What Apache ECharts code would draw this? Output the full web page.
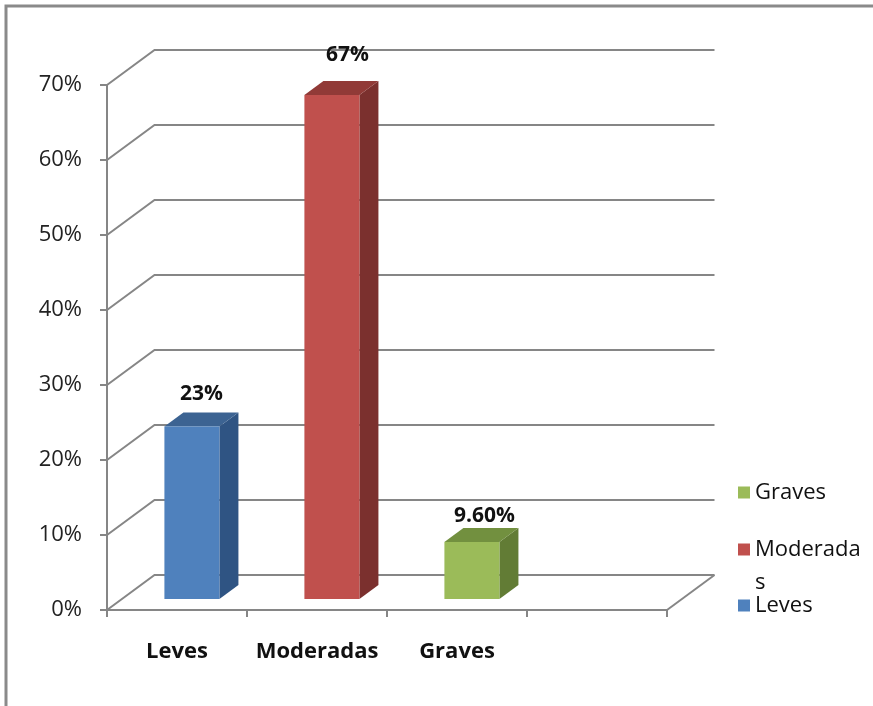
<!DOCTYPE html>
<html>
<head>
<meta charset="utf-8">
<script src="https://cdn.jsdelivr.net/npm/echarts@6/dist/echarts.min.js"></script>
<style>
html,body{margin:0;padding:0;background:#fff;}
#c{width:873px;height:706px;}
</style>
</head>
<body>
<div id="c"></div>
<script>
// ---- data ----
var categories = ['Leves', 'Moderadas', 'Graves', ''];
var seriesNames = ['Leves', 'Moderadas', 'Graves'];
var seriesValues = [23, 67.2, 7.6];
var dataLabels = ['23%', '67%', '9.60%'];
var yTicks = [0, 10, 20, 30, 40, 50, 60, 70];

// ---- style ----
var frontColors = ['#4F81BD', '#C0504D', '#9BBB59'];
var sideColors = ['#2F5483', '#7B302E', '#627C35'];
var topColors = ['#3C6392', '#913A37', '#72903F'];
var labelShiftY = [0, -7, 7];
var labelShiftX = [0, 6, 3];
var DX = 47.5, DY = -35;          // depth of the floor
var FRONT_T = 0.314;              // bar front position in depth
var BAR_T = 0.4;                  // bar depth
var BAR_W = 0.393;                // bar width as fraction of band
var GRID_COLOR = '#868686';
var FONT = '"Open Sans", sans-serif';

var chart = echarts.init(document.getElementById('c'));

function gridRender(params, api) {
  var cs = params.coordSys;
  var v = api.value(1);
  var y = api.coord([0, v])[1];
  var left = cs.x, right = cs.x + cs.width;
  var children = [{
    type: 'polyline',
    shape: { points: [[left, y], [left + DX, y + DY], [right + DX, y + DY]] },
    style: { stroke: GRID_COLOR, lineWidth: 2, fill: null }
  }];
  if (v === 0) {
    children.push({
      type: 'line',
      shape: { x1: right, y1: y, x2: right + DX, y2: y + DY },
      style: { stroke: GRID_COLOR, lineWidth: 2 }
    });
  }
  return { type: 'group', children: children };
}

function makeBarRender(si) {
  return function (params, api) {
    var idx = api.value(0), val = api.value(1);
    var c0 = api.coord([idx, 0]);
    var c1 = api.coord([idx, val]);
    var band = api.size([1, 0])[0];
    var w = band * BAR_W;
    var fx = DX * FRONT_T, fy = DY * FRONT_T;
    var bdx = DX * BAR_T, bdy = DY * BAR_T;
    var xL = c0[0] + fx - w / 2, xR = c0[0] + fx + w / 2;
    var bot = c0[1] + fy, top = c1[1] + fy;
    return {
      type: 'group',
      children: [
        { type: 'polygon', shape: { points: [[xR, bot], [xR + bdx, bot + bdy], [xR + bdx, top + bdy], [xR, top]] },
          style: { fill: sideColors[si] } },
        { type: 'polygon', shape: { points: [[xL, top], [xR, top], [xR + bdx, top + bdy], [xL + bdx, top + bdy]] },
          style: { fill: topColors[si] } },
        { type: 'rect', shape: { x: xL, y: top, width: w, height: bot - top },
          style: { fill: frontColors[si] } },
        { type: 'text', x: (xL + xR) / 2 + bdx / 2 + labelShiftX[si], y: top + bdy - 8 + labelShiftY[si],
          style: { text: dataLabels[si], fill: '#111', font: 'bold 21px ' + FONT, textAlign: 'center', textVerticalAlign: 'bottom' } }
      ]
    };
  };
}

var series = [{
  type: 'custom',
  name: '_grid',
  z: 1,
  silent: true,
  renderItem: gridRender,
  data: yTicks.map(function (t) { return [0, t]; }),
  encode: { x: 0, y: 1 }
}];
seriesNames.forEach(function (n, i) {
  series.push({
    type: 'custom',
    name: n,
    z: 3,
    itemStyle: { color: frontColors[i] },
    renderItem: makeBarRender(i),
    data: [[i, seriesValues[i]]],
    encode: { x: 0, y: 1 }
  });
});

function legendAt(name, topPx, color, textOverride, lh) {
  return {
    show: true,
    orient: 'vertical',
    left: 738,
    top: topPx,
    padding: 0,
    itemWidth: 12,
    itemHeight: 12,
    icon: 'rect',
    data: [{ name: name, itemStyle: { color: color } }],
    formatter: function (n) { return textOverride || n; },
    textStyle: { fontFamily: FONT, fontSize: 22, color: '#111', lineHeight: lh || 25 },
    selectedMode: false
  };
}

var option = {
  backgroundColor: '#fff',
  animation: false,
  graphic: [{
    type: 'rect',
    shape: { x: 6, y: 6, width: 900, height: 800 },
    style: { fill: null, stroke: '#8a8a8a', lineWidth: 3 },
    silent: true
  }],
  legend: [
    legendAt('Graves', 480, frontColors[2]),
    legendAt('Moderadas', 500, frontColors[1], ' \nModerada\ns', 33),
    legendAt('Leves', 593, frontColors[0])
  ],
  grid: { left: 107, right: 206, top: 85, bottom: 96, containLabel: false },
  xAxis: {
    type: 'category',
    data: categories,
    boundaryGap: true,
    axisLine: { show: true, lineStyle: { color: GRID_COLOR, width: 2 } },
    axisTick: { show: true, interval: 0, alignWithLabel: false, length: 7, lineStyle: { color: GRID_COLOR, width: 2 } },
    axisLabel: { interval: 0, margin: 31, fontFamily: FONT, fontSize: 22, fontWeight: 'bold', color: '#111' },
    splitLine: { show: false }
  },
  yAxis: {
    type: 'value',
    min: 0, max: 70, interval: 10,
    axisLine: { show: true, lineStyle: { color: GRID_COLOR, width: 2 } },
    axisTick: { show: true, length: 7, lineStyle: { color: GRID_COLOR, width: 2 } },
    axisLabel: { margin: 25, formatter: '{value}%', fontFamily: FONT, fontSize: 22, color: '#222' },
    splitLine: { show: false }
  },
  series: series
};
chart.setOption(option);
</script>
</body>
</html>
